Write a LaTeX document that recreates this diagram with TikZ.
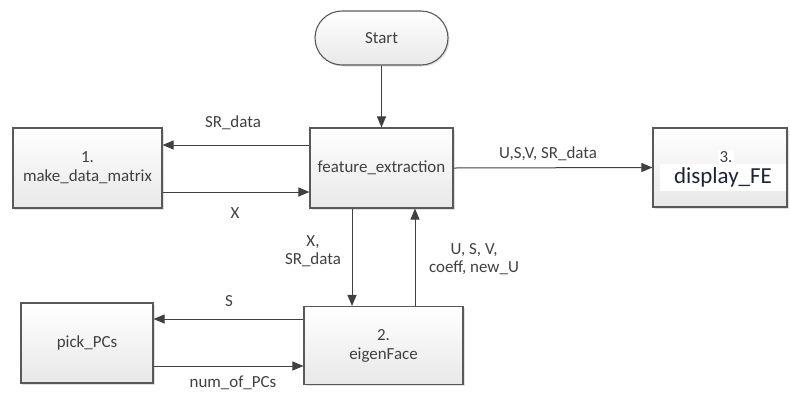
\documentclass[tikz,border=0pt]{standalone}
\usepackage{fontspec}
\setmainfont{Carlito}
\usetikzlibrary{arrows.meta,shadows}
\definecolor{edge}{HTML}{595959}
\definecolor{ink}{HTML}{404040}
\definecolor{boxbot}{HTML}{E8E8E8}
\definecolor{fenavy}{HTML}{1C2333}
\tikzset{
  procbox/.style={draw=edge, line width=1.1bp, top color=white, bottom color=boxbot,
    drop shadow={shadow xshift=1.5bp, shadow yshift=-1.5bp, opacity=0.25},
    text=ink, align=center, font=\fontsize{17}{19}\selectfont, inner sep=0pt},
  flow/.style={draw=ink, line width=1bp, -{Triangle[length=11bp,width=9bp]}},
  lbl/.style={text=ink, align=center, font=\fontsize{17}{18}\selectfont, inner sep=0pt}
}
\begin{document}
\begin{tikzpicture}[x=1bp, y=-1bp]
\useasboundingbox (0,0) rectangle (790,392);

% terminal
\node[procbox, minimum width=133bp, minimum height=54bp, rounded corners=27bp]
  (start) at (381.5,38) {Start};

% process boxes
\node[procbox, minimum width=149bp, minimum height=80bp] (mdm) at (87.5,168) {1.\\make\_data\_matrix};
\node[procbox, minimum width=143bp, minimum height=80bp] (fe) at (381.5,168) {feature\_extraction};
\node[procbox, minimum width=134bp, minimum height=79bp] (dfe) at (720,167.5) {};
\node[procbox, minimum width=159bp, minimum height=78bp] (ef) at (383.5,345.5) {2.\\eigenFace};
\node[procbox, minimum width=132bp, minimum height=80bp] (pick) at (87,343) {pick\_PCs};

% label block inside box 3 with white backing
\node[fill=white, minimum width=126bp, minimum height=27bp, inner sep=0pt,
  font=\fontsize{23}{25}\selectfont, text=fenavy] (dfetxt) at (723,177) {display\_FE};
\node[lbl, fill=white, inner xsep=2bp, inner ysep=1bp] (dfenum) at (726,157) {3.};

% connectors
\draw[flow] (start.south) -- (fe.north);
\draw[flow] (fe.west |- 0,145) -- (mdm.east |- 0,145);
\draw[flow] (mdm.east |- 0,192) -- (fe.west |- 0,192);
\draw[flow] (fe.east) -- (dfe.west);
\draw[flow] (352,0 |- fe.south) -- (352,0 |- ef.north);
\draw[flow] (415,0 |- ef.north) -- (415,0 |- fe.south);
\draw[flow] (ef.west |- 0,319) -- (pick.east |- 0,319);
\draw[flow] (pick.east |- 0,366) -- (ef.west |- 0,366);

% edge labels
\node[lbl] (l1) at (233,123) {SR\_data};
\node[lbl] (l2) at (235,213) {X};
\node[lbl] (l3) at (548,154) {U,S,V, SR\_data};
\node[lbl] (l4) at (313,251) {X,\\SR\_data};
\node[lbl] (l5) at (474,259) {U, S, V,\\coeff, new\_U};
\node[lbl] (l6) at (229,301) {S};
\node[lbl] (l7) at (233,383) {num\_of\_PCs};
\end{tikzpicture}
\end{document}
